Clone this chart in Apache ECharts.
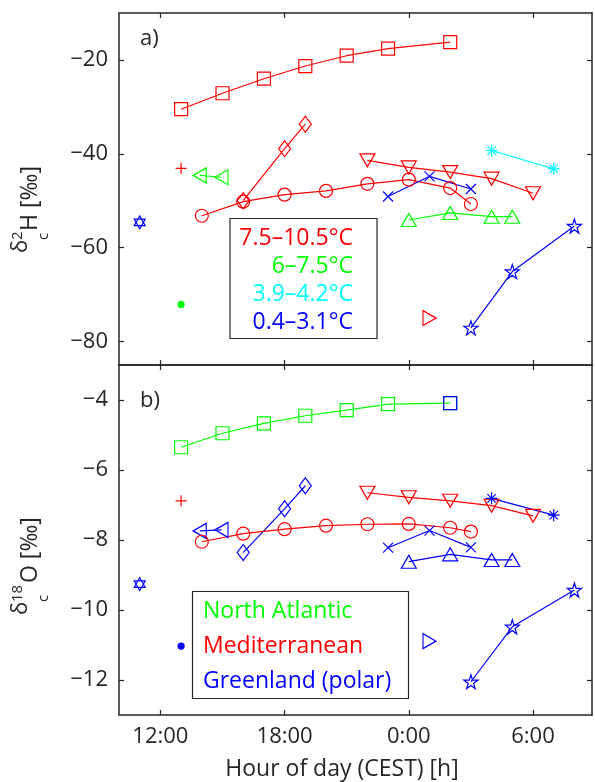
<!DOCTYPE html>
<html lang="en">
<head>
<meta charset="UTF-8">
<title>Hour of day vs deuterium / oxygen-18</title>
<script src="https://cdn.jsdelivr.net/npm/echarts@6/dist/echarts.min.js"></script>
<style>
  html, body { margin: 0; padding: 0; background: #fff; }
  #chart { width: 595px; height: 782px; }
</style>
</head>
<body>
<div id="chart"></div>
<script>
// hours run on past midnight: 24 = 0:00, 30 = 6:00
var xTicks = [12, 18, 24, 30];
var xTickLabels = ['12:00', '18:00', '0:00', '6:00'];
var yTicksA = [-80, -60, -40, -20];
var yTicksB = [-12, -10, -8, -6, -4];

var hSquare = [13, 15, 17, 19, 21, 23, 26];
var aSquare = [-30.5, -27.1, -24.0, -21.3, -19.1, -17.6, -16.2];
var bSquare = [-5.35, -4.95, -4.67, -4.45, -4.29, -4.12, -4.09];
var hSquareBlue = [26];
var bSquareBlue = [-4.09];

var hDiamond = [16, 18, 19];
var aDiamond = [-50.0, -38.9, -33.7];
var bDiamond = [-8.36, -7.11, -6.45];

var hPlus = [13];
var aPlus = [-43.1];
var bPlus = [-6.88];

var hLeftTri = [13.9, 14.95];
var aLeftTri = [-44.6, -45.0];
var bLeftTri = [-7.74, -7.71];

var hCircle = [14, 16, 18, 20, 22, 24, 26, 27];
var aCircle = [-53.2, -50.2, -48.7, -47.9, -46.4, -45.5, -47.3, -50.7];
var bCircle = [-8.05, -7.82, -7.69, -7.59, -7.55, -7.54, -7.65, -7.76];

var hDownTri = [22, 24, 26, 28, 30];
var aDownTri = [-41.4, -42.9, -43.9, -45.3, -48.4];
var bDownTri = [-6.65, -6.78, -6.88, -7.02, -7.31];

var hCross = [23, 25, 27];
var aCross = [-49.1, -44.8, -47.5];
var bCross = [-8.22, -7.73, -8.21];

var hAster = [28, 31];
var aAster = [-39.3, -43.2];
var bAster = [-6.81, -7.29];

var hUpTri = [24, 26, 28, 29];
var aUpTri = [-54.1, -52.6, -53.4, -53.4];
var bUpTri = [-8.62, -8.41, -8.57, -8.57];

var hStar = [27, 29, 32];
var aStar = [-77.1, -65.1, -55.4];
var bStar = [-12.05, -10.48, -9.43];

var hHexa = [11];
var aHexa = [-54.6];
var bHexa = [-9.26];

var hDot = [13];
var aDot = [-72.1];
var bDot = [-11.03];

var hRightTri = [25];
var aRightTri = [-75.0];
var bRightTri = [-10.89];

var legendA = ['7.5\u201310.5\u00b0C', '6\u20137.5\u00b0C', '3.9\u20134.2\u00b0C', '0.4\u20133.1\u00b0C'];
var legendB = ['North Atlantic', 'Mediterranean', 'Greenland (polar)'];

var RED = '#ff0000', GREEN = '#00ff00', CYAN = '#00ffff', BLUE = '#0000ff';
var INK = '#262626';
var FONT = '"Open Sans", "DejaVu Sans", sans-serif';

var legendAColors = [RED, GREEN, CYAN, BLUE];
var legendBColors = [GREEN, RED, BLUE];

// marker shapes
var S_CROSS = 'path://M0,0L10,10M10,0L0,10';
var S_PLUS = 'path://M5,0L5,10M0,5L10,5';
var S_ASTER = 'path://M5,0L5,10M0,5L10,5M1.5,1.5L8.5,8.5M8.5,1.5L1.5,8.5';
var S_STAR = 'path://M10,0L12.25,6.91L19.51,6.91L13.63,11.18L15.88,18.09L10,13.82L4.12,18.09L6.37,11.18L0.49,6.91L7.76,6.91Z';
var S_HEXA = 'path://M10,0L18.66,15L1.34,15ZM10,20L18.66,5L1.34,5Z';

function ser(panel, hours, vals, color, symbol, size, rot, filled) {
  return {
    type: 'line',
    xAxisIndex: panel * 2,
    yAxisIndex: panel * 2,
    data: hours.map(function (h, i) { return [h, vals[i]]; }),
    symbol: symbol,
    symbolSize: size,
    symbolRotate: rot || 0,
    showSymbol: true,
    showAllSymbol: true,
    clip: false,
    lineStyle: { color: color, width: 1.2 },
    itemStyle: {
      color: filled ? color : 'rgba(0,0,0,0)',
      borderColor: color,
      borderWidth: 1.2
    },
    emphasis: { disabled: true },
    animation: false
  };
}

var series = [
  // a) deuterium, coloured by temperature
  ser(0, hSquare, aSquare, RED, 'rect', 13),
  ser(0, hDiamond, aDiamond, RED, 'diamond', [12, 16]),
  ser(0, hPlus, aPlus, RED, S_PLUS, 11),
  ser(0, hLeftTri, aLeftTri, GREEN, 'triangle', [15, 13], 90),
  ser(0, hCircle, aCircle, RED, 'circle', 13),
  ser(0, hDownTri, aDownTri, RED, 'triangle', [15, 13], 180),
  ser(0, hCross, aCross, BLUE, S_CROSS, 10),
  ser(0, hAster, aAster, CYAN, S_ASTER, 12),
  ser(0, hUpTri, aUpTri, GREEN, 'triangle', [15, 13]),
  ser(0, hStar, aStar, BLUE, S_STAR, 14),
  ser(0, hHexa, aHexa, BLUE, S_HEXA, [11, 13]),
  ser(0, hDot, aDot, GREEN, 'circle', 6, 0, true),
  ser(0, hRightTri, aRightTri, RED, 'triangle', [15, 13], -90),
  // b) oxygen-18, coloured by source region
  ser(1, hSquare, bSquare, GREEN, 'rect', 13),
  ser(1, hSquareBlue, bSquareBlue, BLUE, 'rect', 13),
  ser(1, hDiamond, bDiamond, BLUE, 'diamond', [12, 16]),
  ser(1, hPlus, bPlus, RED, S_PLUS, 11),
  ser(1, hLeftTri, bLeftTri, BLUE, 'triangle', [15, 13], 90),
  ser(1, hCircle, bCircle, RED, 'circle', 13),
  ser(1, hDownTri, bDownTri, RED, 'triangle', [15, 13], 180),
  ser(1, hCross, bCross, BLUE, S_CROSS, 10),
  ser(1, hAster, bAster, BLUE, S_ASTER, 12),
  ser(1, hUpTri, bUpTri, BLUE, 'triangle', [15, 13]),
  ser(1, hStar, bStar, BLUE, S_STAR, 14),
  ser(1, hHexa, bHexa, BLUE, S_HEXA, [11, 13]),
  ser(1, hDot, bDot, BLUE, 'circle', 6, 0, true),
  ser(1, hRightTri, bRightTri, BLUE, 'triangle', [15, 13], -90)
];

var axisLine = { show: true, lineStyle: { color: INK, width: 1.5 } };

function xAxis(grid, pos, labels) {
  return {
    type: 'value', gridIndex: grid, position: pos, min: 10, max: 32.85,
    axisLine: axisLine,
    axisTick: { show: true, inside: true, length: 5, customValues: xTicks, lineStyle: { color: INK, width: 1.2 } },
    axisLabel: {
      show: labels, customValues: xTicks, margin: 11,
      color: INK, fontSize: 22, fontFamily: FONT,
      formatter: function (v) { return xTickLabels[xTicks.indexOf(v)]; }
    },
    splitLine: { show: false }
  };
}

function yAxis(grid, pos, labels, lo, hi, ticks) {
  return {
    type: 'value', gridIndex: grid, position: pos, min: lo, max: hi,
    axisLine: axisLine,
    axisTick: { show: true, inside: true, length: 5, customValues: ticks, lineStyle: { color: INK, width: 1.2 } },
    axisLabel: {
      show: labels, customValues: ticks, margin: 11,
      color: INK, fontSize: 22, fontFamily: FONT,
      formatter: function (v) { return (v < 0 ? '\u2212' : '') + Math.abs(v); }
    },
    splitLine: { show: false }
  };
}

function txt(x, y, s, color, size, align) {
  return {
    type: 'text', x: x, y: y, z: 100,
    style: {
      text: s, fill: color, fontSize: size, fontFamily: FONT,
      textAlign: align || 'left', textVerticalAlign: 'middle'
    }
  };
}

// rotated y-axis name: delta with stacked superscript / subscript
function yName(x, y, sup, rest, supGap) {
  return {
    type: 'group', x: x, y: y, rotation: Math.PI / 2, z: 100,
    children: [
      txt(2, -9, '\u03b4', INK, 22),
      txt(15, -12, sup, INK, 15),
      txt(15, 14, 'c', INK, 15),
      txt(15 + supGap, 0, rest, INK, 23)
    ]
  };
}

var graphics = [
  txt(140, 39, 'a)', INK, 22),
  txt(140, 401, 'b)', INK, 22),
  txt(342, 769, 'Hour of day (CEST) [h]', INK, 23, 'center'),
  yName(30, 255, '2', 'H [\u2030]', 9),
  yName(30, 617, '18', 'O [\u2030]', 19),
  {
    type: 'rect', z: 90,
    shape: { x: 230, y: 218.5, width: 147, height: 120 },
    style: { fill: '#fff', stroke: INK, lineWidth: 1.2 }
  },
  {
    type: 'rect', z: 90,
    shape: { x: 192.5, y: 591.5, width: 216, height: 107 },
    style: { fill: '#fff', stroke: INK, lineWidth: 1.2 }
  }
];
legendA.forEach(function (s, i) {
  graphics.push(txt(353, 238 + i * 28.2, s, legendAColors[i], 23, 'right'));
});
legendB.forEach(function (s, i) {
  graphics.push(txt(203, 611 + i * 35, s, legendBColors[i], 23, 'left'));
});

var chart = echarts.init(document.getElementById('chart'), null, { renderer: 'canvas' });
chart.setOption({
  animation: false,
  grid: [
    { left: 119, top: 13, width: 473, height: 352 },
    { left: 119, top: 365, width: 473, height: 350 }
  ],
  xAxis: [
    xAxis(0, 'bottom', false),
    xAxis(0, 'top', false),
    xAxis(1, 'bottom', true),
    xAxis(1, 'top', false)
  ],
  yAxis: [
    yAxis(0, 'left', true, -85, -10, yTicksA),
    yAxis(0, 'right', false, -85, -10, yTicksA),
    yAxis(1, 'left', true, -13, -3, yTicksB),
    yAxis(1, 'right', false, -13, -3, yTicksB)
  ],
  series: series,
  graphic: graphics
});
</script>
</body>
</html>
